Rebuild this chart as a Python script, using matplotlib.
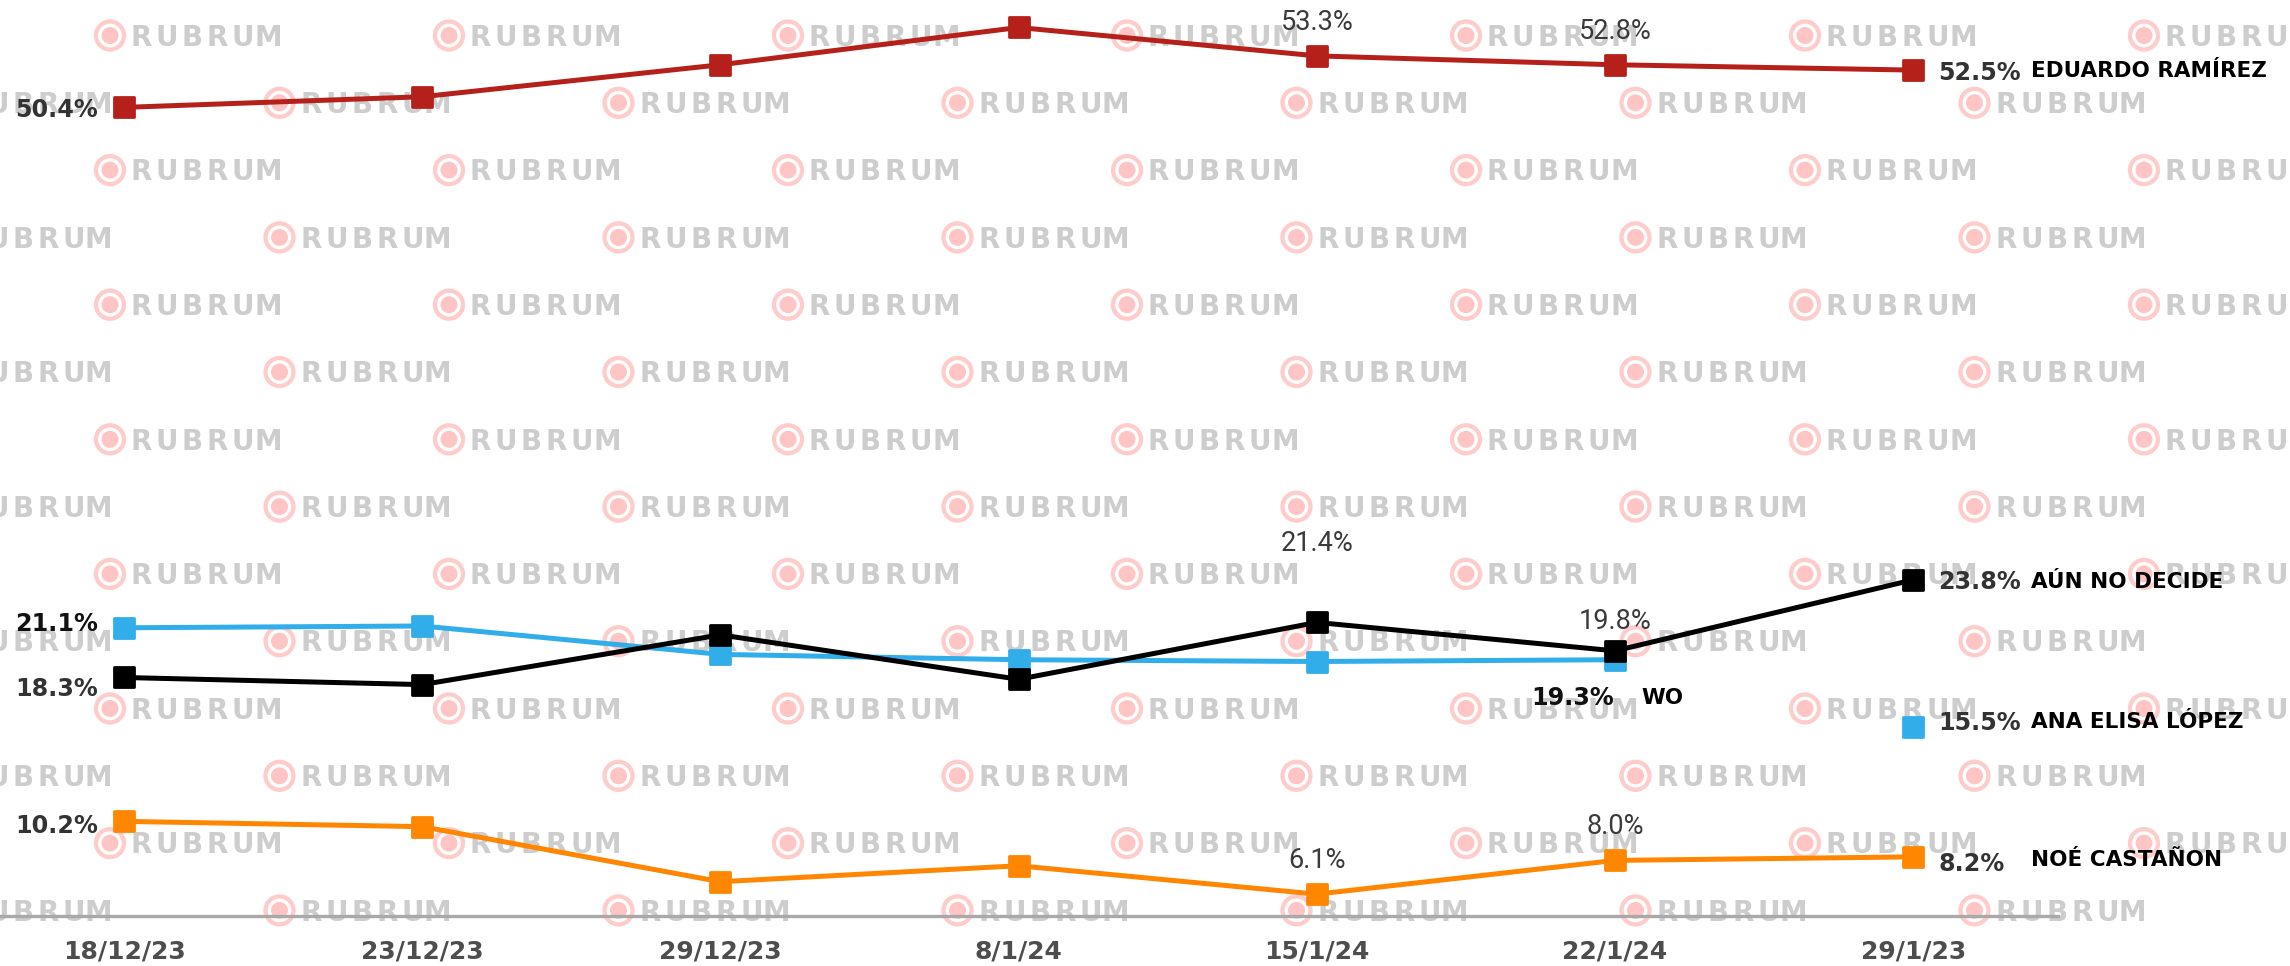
import numpy as np
import matplotlib
matplotlib.use("Agg")
import matplotlib.pyplot as plt
from matplotlib.patches import Circle
from matplotlib.markers import MarkerStyle

# ---------------- data ----------------
dates = ["18/12/23", "23/12/23", "29/12/23", "8/1/24", "15/1/24", "22/1/24", "29/1/23"]
ramirez = [50.4, 51.0, 52.8, 54.9, 53.3, 52.8, 52.5]
no_decide = [18.3, 17.9, 20.7, 18.2, 21.4, 19.8, 23.8]
wo = [21.1, 21.2, 19.6, 19.3, 19.2, 19.3, np.nan]
ana_elisa = [np.nan, np.nan, np.nan, np.nan, np.nan, np.nan, 15.5]
castanon = [10.2, 9.9, 6.8, 7.7, 6.1, 8.0, 8.2]

names = {"ramirez": "EDUARDO RAMÍREZ", "no_decide": "AÚN NO DECIDE",
         "wo": "WO", "ana": "ANA ELISA LÓPEZ", "castanon": "NOÉ CASTAÑON"}

C_RED = "#b5211a"
C_BLACK = "#000000"
C_BLUE = "#31aeea"
C_ORANGE = "#ff8600"

W, H = 2290, 966
fig = plt.figure(figsize=(W / 100, H / 100), dpi=100)
fig.patch.set_facecolor("white")

# ---------------- watermark ----------------
wm = fig.add_axes([0, 0, 1, 1], zorder=0)
wm.set_xlim(0, W)
wm.set_ylim(H, 0)
wm.axis("off")
for k in range(14):
    cy = 35.5 + 67.3 * k
    x0 = 110 + (169.5 if k % 2 else 0)
    for j in range(-1, 8):
        cx = x0 + 339 * j
        if cx - 20 > W or cx + 200 < 0:
            continue
        wm.add_patch(Circle((cx, cy), 14, fill=False, ec="#ffcccc", lw=3.1))
        wm.add_patch(Circle((cx, cy), 8.5, fc="#ffc4c4", ec="none"))
        for i, ch in enumerate("RUBRUM"):
            wm.text(cx + 19 + 25.3 * (i + 0.5), cy + 10.2, ch, ha="center",
                    va="baseline", fontsize=20, fontweight="bold", color="#cdcdcd")

# ---------------- main axes ----------------
ppu = 17.76
zero = 1002.5
ax = fig.add_axes([0, (H - 916) / H, 2058 / W, 916 / H], zorder=1)
ax.patch.set_alpha(0)
ax.set_ylim((zero - 916) / ppu, zero / ppu)
ax.set_xlim(-124 / 298.2, (2058 - 124) / 298.2)

x = np.arange(len(dates))
mk = MarkerStyle("s", joinstyle="round")
common = dict(lw=3.6, marker=mk, ms=14.5, mew=2, solid_capstyle="round")

ax.plot(x, wo, color=C_BLUE, mfc=C_BLUE, mec=C_BLUE, **common)
ax.plot(x, ana_elisa, color=C_BLUE, mfc=C_BLUE, mec=C_BLUE, **common)
ax.plot(x, no_decide, color=C_BLACK, mfc=C_BLACK, mec=C_BLACK, **common)
ax.plot(x, ramirez, color=C_RED, mfc=C_RED, mec=C_RED, **common)
ax.plot(x, castanon, color=C_ORANGE, mfc=C_ORANGE, mec=C_ORANGE, **common)

for s in ["left", "right", "top"]:
    ax.spines[s].set_visible(False)
ax.spines["bottom"].set_color("#a9a9a9")
ax.spines["bottom"].set_linewidth(2.4)
ax.set_yticks([])
ax.set_xticks(x, dates, fontsize=18, fontweight="bold", color="#4d4d4d")
ax.tick_params(axis="x", length=0, pad=17)

BOLD = dict(fontsize=17.2, fontweight="bold", family="DejaVu Sans")
NAME = dict(fontsize=15.5, fontweight="bold", family="DejaVu Sans", color="#000000")
LIGHT = dict(fontsize=19.5, fontweight="normal", family=["Roboto", "DejaVu Sans"], color="#3a3a3a")


def lab(i, v, txt, dx, dy, ha, va, **kw):
    ax.annotate(txt, xy=(i, v), xytext=(dx, dy), textcoords="offset pixels",
                ha=ha, va=va, annotation_clip=False, zorder=5, **kw)


def pct(v):
    return f"{v:.1f}%"

# left labels
lab(0, ramirez[0], pct(ramirez[0]), -26, 0, "right", "center_baseline", color="#333333", **BOLD)
lab(0, wo[0], pct(wo[0]), -26, 6, "right", "center_baseline", color="#111111", **BOLD)
lab(0, no_decide[0], pct(no_decide[0]), -26, -9, "right", "center_baseline", color="#333333", **BOLD)
lab(0, castanon[0], pct(castanon[0]), -26, -2, "right", "center_baseline", color="#333333", **BOLD)

# labels above points
lab(4, ramirez[4], pct(ramirez[4]), 0, 26, "center", "baseline", **LIGHT)
lab(5, ramirez[5], pct(ramirez[5]), 0, 26, "center", "baseline", **LIGHT)
lab(4, no_decide[4], pct(no_decide[4]), 0, 71, "center", "baseline", **LIGHT)
lab(5, no_decide[5], pct(no_decide[5]), 0, 22, "center", "baseline", **LIGHT)
lab(4, castanon[4], pct(castanon[4]), 0, 26, "center", "baseline", **LIGHT)
lab(5, castanon[5], pct(castanon[5]), 0, 26, "center", "baseline", **LIGHT)

# WO label below
lab(5, wo[5], pct(wo[5]), -1, -36, "right", "center_baseline", color="#111111", **BOLD)
lab(5, wo[5], names["wo"], 26, -36, "left", "center_baseline", **NAME)

# right labels
last = len(dates) - 1
for series, key, dy_v, dy_n in [(ramirez, "ramirez", 0, 1),
                                (no_decide, "no_decide", 0, 0),
                                (ana_elisa, "ana", 7, 7),
                                (castanon, "castanon", -5, -1)]:
    lab(last, series[last], pct(series[last]), 25, dy_v, "left", "center_baseline",
        color="#333333", **BOLD)
    lab(last, series[last], names[key], 118, dy_n, "left", "center_baseline", **NAME)

fig.savefig("out.png", dpi=100, facecolor="white")
